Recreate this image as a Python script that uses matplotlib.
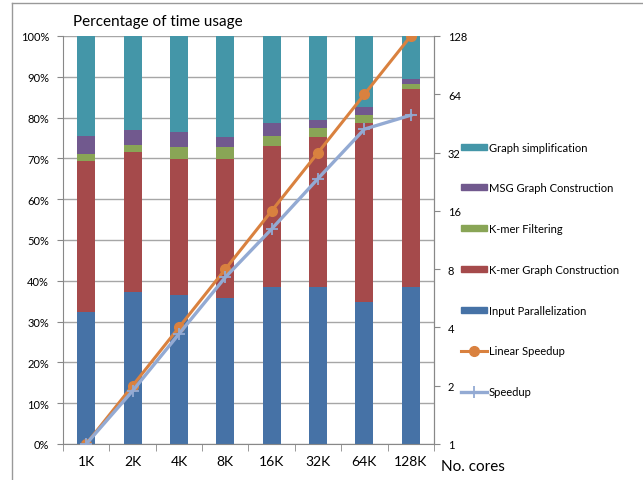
import numpy as np
import matplotlib.pyplot as plt
from matplotlib.lines import Line2D
from matplotlib.patches import Patch

plt.rcParams['font.family'] = ['Lato', 'DejaVu Sans']

cores = ['1K', '2K', '4K', '8K', '16K', '32K', '64K', '128K']

# percentage of run time per phase (stacked bottom to top)
input_par = [32.4, 37.2, 36.4, 35.7, 38.4, 38.6, 34.7, 38.4]
kmer_graph = [37.0, 34.4, 33.5, 34.2, 34.6, 36.6, 44.0, 48.6]
kmer_filter = [1.8, 1.7, 2.9, 2.9, 2.5, 2.2, 1.9, 1.2]
msg_graph = [4.3, 3.7, 3.7, 2.4, 3.2, 2.0, 2.0, 1.3]
graph_simp = [24.5, 23.0, 23.5, 24.8, 21.3, 20.6, 17.4, 10.5]

linear_speedup = [1, 2, 4, 8, 16, 32, 64, 128]
speedup = [1, 1.88, 3.70, 7.26, 12.9, 23.5, 42.3, 49.9]

phases = [
    ('Input Parallelization', input_par, '#4672A6'),
    ('K-mer Graph Construction', kmer_graph, '#A54A4B'),
    ('K-mer Filtering', kmer_filter, '#89A556'),
    ('MSG Graph Construction', msg_graph, '#71598E'),
    ('Graph simplification', graph_simp, '#4496A8'),
]

axis_gray = '#888888'

fig = plt.figure(figsize=(6.43, 4.81), dpi=100)
ax = fig.add_axes([63 / 643, 1 - 445 / 481, 371 / 643, 408 / 481])

x = np.arange(len(cores))
bottom = np.zeros(len(cores))
for name, vals, col in phases:
    ax.bar(x, vals, 0.39, bottom=bottom, color=col, label=name, zorder=2)
    bottom += np.array(vals)

ax.set_xlim(-0.5, len(cores) - 0.5)
ax.set_ylim(0, 100)
ax.set_yticks(np.arange(0, 101, 10))
ax.set_yticklabels(['%d%%' % v for v in range(0, 101, 10)])
ax.yaxis.grid(True, color='#a6a6a6', lw=1.0, zorder=0)
ax.set_axisbelow(True)
ax.set_xticks(x)
ax.set_xticklabels(cores, fontsize=10)
ax.set_xticks(np.arange(-0.5, len(cores), 1), minor=True)
ax.tick_params(axis='x', which='major', length=0, pad=8)
ax.tick_params(axis='x', which='minor', length=5, color=axis_gray)
ax.tick_params(axis='y', length=4, color=axis_gray, labelsize=8, pad=6)
for s in ['top']:
    ax.spines[s].set_visible(False)
for s in ['left', 'bottom', 'right']:
    ax.spines[s].set_color(axis_gray)

ax2 = ax.twinx()
ax2.set_yscale('log', base=2)
ax2.set_ylim(1, 128)
ax2.plot(x, linear_speedup, color='#D9813F', lw=2.2, marker='o', ms=7,
         label='Linear Speedup', zorder=3)
ax2.plot(x, speedup, color='#93AAD3', lw=2.4, marker='+', ms=8, mew=1.3,
         label='Speedup', zorder=3)
ax2.set_yticks(linear_speedup)
ax2.set_yticklabels([str(v) for v in linear_speedup])
ax2.yaxis.set_minor_locator(plt.NullLocator())
ax2.tick_params(axis='y', length=4, color=axis_gray, labelsize=8, pad=6)
for s in ['top', 'left', 'bottom']:
    ax2.spines[s].set_visible(False)
ax2.spines['right'].set_color(axis_gray)

fig.text(73 / 643, 1 - 22 / 481, 'Percentage of time usage', fontsize=11,
         va='center', ha='left')
fig.text(441 / 643, 1 - 467 / 481, 'No. cores', fontsize=11,
         va='center', ha='left')

handles = [Patch(color=col, label=name) for name, vals, col in phases[::-1]]
handles += [
    Line2D([], [], color='#D9813F', lw=2.2, marker='o', ms=7, label='Linear Speedup'),
    Line2D([], [], color='#93AAD3', lw=2.4, marker='+', ms=8, mew=1.3, label='Speedup'),
]
fig.legend(handles=handles, loc='upper left', bbox_to_anchor=(455 / 643, 1 - 137 / 481),
           frameon=False, fontsize=8, labelspacing=2.68, handlelength=2.4,
           handleheight=0.45, handletextpad=0.15, borderpad=0)

# outer frame
fig.add_artist(Line2D([12 / 643, 12 / 643], [0, 1 - 4 / 481], color='#999999', lw=1))
fig.add_artist(Line2D([12 / 643, 1], [1 - 4 / 481, 1 - 4 / 481], color='#999999', lw=1))

fig.savefig('out.png', dpi=100)
